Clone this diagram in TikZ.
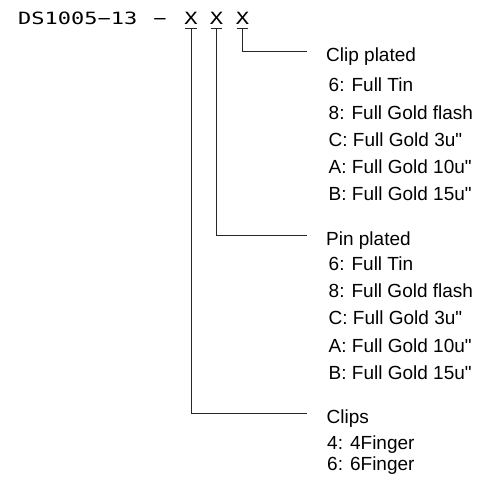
\documentclass[tikz,border=0pt]{standalone}
\usepackage{fontspec}
\setmainfont{Liberation Sans}
\newfontfamily\lblfont{Liberation Sans}
\newfontfamily\cadfont[FakeStretch=1.3]{DejaVu Sans Mono}
\tikzset{
  lbl/.style={anchor=base west, inner sep=0pt, font=\lblfont\fontsize{19}{22}\selectfont},
  cad/.style={inner sep=0pt, font=\cadfont\fontsize{16.9}{20}\selectfont},
  conn/.style={draw=black!85, line width=0.9pt},
  xmark/.style={cad, anchor=base, text depth=3.3pt},
}
\begin{document}
\begin{tikzpicture}[x=1pt,y=1pt]
\useasboundingbox (0,0) rectangle (484,-478);
% part number
\node[cad, anchor=base west] (pn) at (18,-25) {DS1005−13};
\node[cad, anchor=base] (dash) at (160,-25) {−};
\node[xmark] (x1) at (191,-25) {X};
\node[xmark] (x2) at (216.5,-25) {X};
\node[xmark] (x3) at (242.5,-25) {X};
\foreach \n in {x1,x2,x3}{
  \draw[conn] ([xshift=1pt]\n.south west) -- ([xshift=-1pt]\n.south east);
}
% connectors
\coordinate (e3) at (307,-51);
\coordinate (e2) at (307,-235.7);
\coordinate (e1) at (307,-413.3);
\draw[conn] (x3.south) |- (e3);
\draw[conn] (x2.south) |- (e2);
\draw[conn] (x1.south) |- (e1);
% clip plated block
\node[lbl] (cp) at (326,-61.8) {Clip plated};
\node[lbl] (cp1) at (328.5,-92) {6: Full Tin};
\node[lbl] (cp2) at (328.5,-119.1) {8: Full Gold flash};
\node[lbl] (cp3) at (328.5,-146.2) {C: Full Gold 3u"};
\node[lbl] (cp4) at (328.5,-173.3) {A: Full Gold 10u"};
\node[lbl] (cp5) at (328.5,-200.4) {B: Full Gold 15u"};
% pin plated block
\node[lbl] (pp) at (326,-245) {Pin plated};
\node[lbl] (pp1) at (328.5,-270.3) {6: Full Tin};
\node[lbl] (pp2) at (328.5,-297.6) {8: Full Gold flash};
\node[lbl] (pp3) at (328.5,-324.9) {C: Full Gold 3u"};
\node[lbl] (pp4) at (328.5,-352.2) {A: Full Gold 10u"};
\node[lbl] (pp5) at (328.5,-379.5) {B: Full Gold 15u"};
% clips block
\node[lbl] (cl) at (326.5,-423.5) {Clips};
\node[lbl] (cl1) at (327,-449) {4: 4Finger};
\node[lbl] (cl2) at (327,-470.5) {6: 6Finger};
\end{tikzpicture}
\end{document}
